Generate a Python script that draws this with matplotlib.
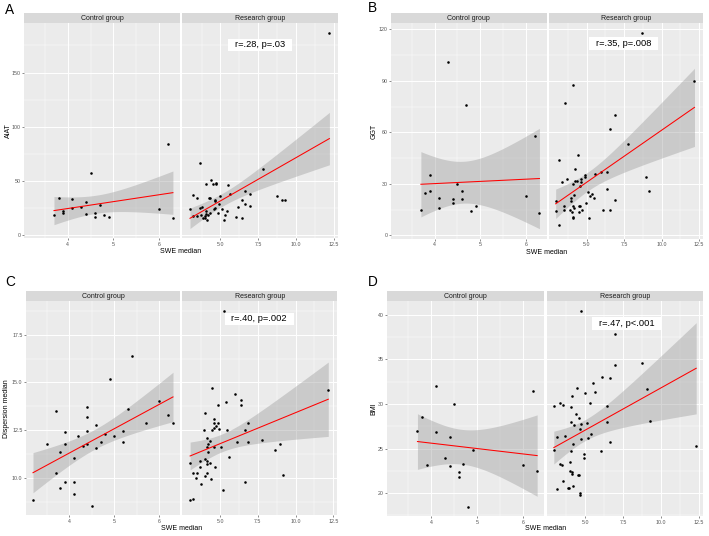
import numpy as np
import matplotlib
matplotlib.use("Agg")
import matplotlib.pyplot as plt
from matplotlib.patches import Rectangle

plt.rcParams['font.family'] = ['Liberation Sans', 'DejaVu Sans']

# ---------------- data ----------------
groups = ["Control group", "Research group"]

ctrl_swe = [3.7, 3.8, 3.9, 3.9, 4.1, 4.1, 4.3, 4.4, 4.4, 4.5, 4.6, 4.6, 4.7, 4.8, 4.9, 6.0, 6.2, 6.3]

a_ctrl_x = ctrl_swe
a_ctrl_y = [19.1, 34.8, 22.1, 20.6, 33.6, 25.2, 26.1, 30.9, 20.0, 57.3, 20.9, 17.0, 28.2, 19.1, 17.0, 23.9, 84.2, 16.1]
a_res_x = [2.99, 3.21, 3.42, 3.21, 3.47, 3.62, 3.62, 3.95, 3.95, 4.08, 4.08, 4.12, 4.23, 4.30, 4.34, 4.41, 4.52,
           4.56, 4.61, 4.67, 4.74, 4.74, 4.67, 4.93, 5.0, 5.11, 5.22, 5.33, 5.44, 5.53, 5.61, 6.05, 6.14, 6.42,
           6.42, 6.64, 6.64, 6.93, 6.93, 7.84, 8.72, 9.05, 9.27, 12.2, 3.69, 3.86, 4.02, 4.17, 4.82, 3.80]
a_res_y = [24.2, 37.3, 34.2, 18.2, 17.6, 66.4, 25.2, 17.6, 16.1, 22.1, 47.0, 14.5, 34.8, 34.2, 20.6, 50.9, 47.3,
           24.5, 32.7, 25.2, 47.9, 47.0, 32.1, 28.8, 36.1, 24.2, 13.9, 19.1, 22.1, 46.1, 37.9, 17.0, 26.1, 33.0,
           16.1, 40.9, 28.8, 37.9, 27.0, 61.2, 36.1, 33.0, 32.4, 186.4, 19.1, 16.1, 19.7, 19.1, 20.6, 25.8]

b_ctrl_x = ctrl_swe
b_ctrl_y = [15, 25, 35, 26, 22, 16, 101, 21, 19, 30, 26, 21, 76, 14, 17, 23, 58, 13]
b_res_x = [2.94, 2.96, 3.18, 3.18, 3.37, 3.48, 3.52, 3.57, 3.68, 3.87, 3.96, 3.96, 4.02, 4.07, 4.07, 4.07, 4.07,
           4.07, 4.13, 4.13, 4.26, 4.26, 4.35, 4.46, 4.48, 4.52, 4.54, 4.57, 4.61, 4.63, 4.70, 4.87, 4.87, 4.98,
           5.09, 5.17, 5.26, 5.35, 5.48, 5.56, 5.95, 6.08, 6.39, 6.39, 6.56, 6.56, 6.89, 6.89, 7.75, 8.69, 8.95,
           9.19, 12.2]
b_res_y = [20.1, 14.1, 44.1, 6.0, 31.0, 17.0, 15.1, 77.0, 33.1, 14.7, 22.1, 19.9, 13.7, 87.9, 30.2, 17.0, 10.8,
           9.9, 23.8, 16.1, 38.9, 31.9, 31.9, 47.0, 17.0, 13.5, 28.6, 17.0, 33.1, 31.0, 15.1, 35.0, 34.1, 19.0,
           25.2, 9.9, 23.2, 24.2, 22.1, 36.0, 37.0, 14.9, 37.2, 27.1, 61.9, 14.9, 70.1, 20.9, 53.0, 117.9, 34.1,
           25.9, 90.0]

c_ctrl_x = [3.2, 3.5, 3.7, 3.7, 3.8, 3.8, 3.9, 3.9, 3.9, 4.1, 4.1, 4.1, 4.2, 4.3, 4.4, 4.4, 4.4, 4.4, 4.5, 4.6,
            4.6, 4.7, 4.8, 4.9, 5.0, 5.2, 5.2, 5.3, 5.4, 5.7, 6.0, 6.2, 6.3]
c_ctrl_y = [8.88, 11.80, 13.51, 10.28, 11.38, 9.50, 12.40, 11.80, 9.79, 11.07, 9.79, 9.19, 12.18, 11.68, 13.70,
            13.20, 12.47, 11.80, 8.57, 12.80, 11.57, 11.88, 12.30, 15.20, 12.19, 12.49, 11.90, 13.59, 16.39,
            12.90, 14.01, 13.30, 12.90]
c_res_x = [3.0, 3.22, 3.0, 3.22, 3.41, 3.48, 3.63, 3.63, 3.70, 3.91, 4.0, 4.02, 4.02, 4.09, 4.09, 4.13, 4.13,
           4.13, 4.22, 4.22, 4.30, 4.30, 4.39, 4.48, 4.48, 4.57, 4.57, 4.61, 4.61, 4.67, 4.70, 4.87, 4.87, 4.93,
           5.07, 5.17, 5.28, 5.39, 5.48, 5.57, 6.0, 6.09, 6.39, 6.39, 6.61, 6.61, 6.87, 6.87, 7.78, 8.65, 8.98,
           9.15, 12.17]
c_res_y = [8.84, 8.89, 10.78, 10.28, 10.0, 10.28, 10.92, 10.57, 9.71, 12.51, 13.40, 11.0, 10.09, 12.09, 11.61,
           10.88, 10.74, 10.28, 11.35, 11.81, 11.92, 10.79, 9.98, 14.72, 12.51, 12.61, 13.11, 12.90, 11.61,
           10.57, 12.70, 12.90, 13.82, 12.59, 11.61, 9.40, 18.73, 13.99, 12.51, 11.09, 14.41, 11.88, 14.10,
           13.80, 12.51, 9.79, 12.90, 11.88, 11.99, 11.49, 11.80, 10.19, 14.60]

d_ctrl_x = [3.7, 3.8, 3.9, 4.1, 4.1, 4.3, 4.4, 4.4, 4.5, 4.6, 4.6, 4.7, 4.8, 4.9, 6.0, 6.2, 6.3]
d_ctrl_y = [27.0, 28.5, 23.1, 26.8, 32.0, 23.9, 26.3, 23.0, 30.0, 22.4, 21.8, 23.3, 18.5, 24.8, 23.1, 31.4, 22.5]
d_res_x = [2.93, 2.97, 3.14, 3.14, 3.36, 3.36, 3.45, 3.56, 3.56, 3.67, 3.84, 3.93, 3.97, 4.02, 4.06, 4.06, 4.06,
           4.10, 4.10, 4.15, 4.17, 4.21, 4.28, 4.37, 4.45, 4.50, 4.59, 4.59, 4.63, 4.63, 4.63, 4.69, 4.72, 4.72,
           4.89, 4.89, 4.98, 5.11, 5.20, 5.31, 5.41, 5.50, 5.61, 6.03, 6.11, 6.42, 6.42, 6.62, 6.62, 6.94, 6.94,
           8.76, 9.08, 9.26, 12.3]
d_res_y = [29.81, 24.81, 26.27, 20.52, 30.11, 23.28, 23.17, 29.89, 21.38, 26.38, 20.63, 20.63, 23.54, 22.5,
           27.99, 29.70, 24.74, 22.35, 22.16, 30.86, 20.75, 25.49, 27.65, 28.88, 31.75, 22.05, 22.05, 28.40,
           27.16, 20.07, 19.74, 40.41, 27.76, 26.08, 24.37, 23.92, 31.19, 27.84, 26.19, 30.11, 26.60, 32.39,
           31.34, 24.70, 32.99, 29.81, 27.99, 32.87, 25.71, 37.80, 34.33, 34.63, 31.72, 28.13, 25.30]

y_titles = ["AIAT", "GGT", "Dispersion median", "BMI"]
panel_letters = ["A", "B", "C", "D"]
stat_labels = ["r=.28, p=.03", "r=.35, p=.008", "r=.40, p=.002", "r=.47, p<.001"]
stat_pos = [(7.63, 175.5), (7.48, 111.8), (7.58, 18.32), (7.72, 39.03)]
y_breaks = [[0, 50, 100, 150], [0, 30, 60, 90, 120], [10.0, 12.5, 15.0, 17.5], [20, 25, 30, 35, 40]]
y_break_labels = [["0", "50", "100", "150"], ["0", "30", "60", "90", "120"],
                  ["10.0", "12.5", "15.0", "17.5"], ["20", "25", "30", "35", "40"]]
ctrl_x_breaks = [4, 5, 6]
ctrl_x_labels = ["4", "5", "6"]
res_x_breaks = [5.0, 7.5, 10.0, 12.5]
res_x_labels = ["5.0", "7.5", "10.0", "12.5"]

panels = [
    (a_ctrl_x, a_ctrl_y, a_res_x, a_res_y),
    (b_ctrl_x, b_ctrl_y, b_res_x, b_res_y),
    (c_ctrl_x, c_ctrl_y, c_res_x, c_res_y),
    (d_ctrl_x, d_ctrl_y, d_res_x, d_res_y),
]

# ---------------- layout (pixels) ----------------
W, H = 709, 536
layout = [
    dict(ctrl=(24, 23.3, 180, 238.3), res=(182, 23.3, 338, 238.3), strip=13.0, ylab_x=8.0, xlab_y=251.5, let=(10, 10)),
    dict(ctrl=(391, 23.3, 546.5, 238.5), res=(548.5, 23.3, 703, 238.5), strip=13.0, ylab_x=374.5, xlab_y=252, let=(372.7, 8.5)),
    dict(ctrl=(26, 301.3, 180, 515.3), res=(182, 301.3, 337.3, 515.3), strip=290.7, ylab_x=6.5, xlab_y=528, let=(10, 282.5)),
    dict(ctrl=(387.3, 301.3, 544.3, 516.3), res=(546.7, 301.3, 703.3, 516.3), strip=291.3, ylab_x=373.5, xlab_y=529, let=(372.5, 282)),
]

PANEL_BG = "#EBEBEB"
STRIP_BG = "#D9D9D9"
TICK_COL = "#555555"


def t975(df):
    z = 1.959964
    g1 = (z**3 + z) / 4
    g2 = (5 * z**5 + 16 * z**3 + 3 * z) / 96
    g3 = (3 * z**7 + 19 * z**5 + 17 * z**3 - 15 * z) / 384
    return z + g1 / df + g2 / df**2 + g3 / df**3


def lm_band(x, y):
    x = np.asarray(x, float)
    y = np.asarray(y, float)
    n = len(x)
    xb, yb = x.mean(), y.mean()
    sxx = ((x - xb) ** 2).sum()
    b = ((x - xb) * (y - yb)).sum() / sxx
    a = yb - b * xb
    s = np.sqrt(((y - a - b * x) ** 2).sum() / (n - 2))
    xs = np.linspace(x.min(), x.max(), 80)
    fit = a + b * xs
    half = t975(n - 2) * s * np.sqrt(1 / n + (xs - xb) ** 2 / sxx)
    return xs, fit, half


def expand(lo, hi, m=0.05):
    d = hi - lo
    return lo - m * d, hi + m * d


def minor_breaks(major, lim):
    step = major[1] - major[0]
    cand = np.arange(major[0] - step * 3, major[-1] + step * 3, step) + step / 2
    return [c for c in cand if lim[0] <= c <= lim[1]]


def add_axes_px(box):
    x0, y0, x1, y1 = box
    return fig.add_axes([x0 / W, 1 - y1 / H, (x1 - x0) / W, (y1 - y0) / H])


fig = plt.figure(figsize=(W / 100, H / 100), dpi=100)
fig.patch.set_facecolor("white")

all_ctrl_x = np.concatenate([np.asarray(p[0], float) for p in panels])
all_res_x = np.concatenate([np.asarray(p[2], float) for p in panels])
ctrl_xlim = expand(all_ctrl_x.min(), all_ctrl_x.max())
res_xlim = expand(all_res_x.min(), all_res_x.max())

renderer = fig.canvas.get_renderer()

for i, (cx, cy, rx, ry) in enumerate(panels):
    L = layout[i]
    bands = [lm_band(cx, cy), lm_band(rx, ry)]
    ys = [np.asarray(cy, float), np.asarray(ry, float)]
    lo = min(min(v.min() for v in ys), min((f - h).min() for _, f, h in bands))
    hi = max(max(v.max() for v in ys), max((f + h).max() for _, f, h in bands))
    ylim = expand(lo, hi)

    for j, (box, xs_, ys_, xlim, xb, xl) in enumerate([
            (L["ctrl"], cx, cy, ctrl_xlim, ctrl_x_breaks, ctrl_x_labels),
            (L["res"], rx, ry, res_xlim, res_x_breaks, res_x_labels)]):
        ax = add_axes_px(box)
        ax.set_facecolor(PANEL_BG)
        for sp in ax.spines.values():
            sp.set_visible(False)
        ax.set_xlim(*xlim)
        ax.set_ylim(*ylim)
        # grid
        for v in minor_breaks(xb, xlim):
            ax.axvline(v, color="white", lw=0.35, zorder=0.5)
        for v in minor_breaks(y_breaks[i], ylim):
            ax.axhline(v, color="white", lw=0.35, zorder=0.5)
        for v in xb:
            ax.axvline(v, color="white", lw=0.7, zorder=0.6)
        for v in y_breaks[i]:
            ax.axhline(v, color="white", lw=0.7, zorder=0.6)
        # smooth
        gx, gfit, ghalf = bands[j]
        ax.fill_between(gx, gfit - ghalf, gfit + ghalf, color="#999999", alpha=0.4, lw=0, zorder=1)
        ax.plot(gx, gfit, color="#FF0000", lw=0.75, zorder=3)
        ax.scatter(xs_, ys_, s=3.4, color="black", lw=0, zorder=2)
        # ticks
        ax.set_xticks(xb)
        ax.set_xticklabels(xl)
        ax.set_yticks(y_breaks[i])
        if j == 0:
            ax.set_yticklabels(y_break_labels[i])
        else:
            ax.set_yticklabels([])
        ax.tick_params(axis="both", labelsize=3.8, labelcolor=TICK_COL, color="#333333",
                       width=0.4, length=1.5, pad=1.0)
        if j == 1:
            ax.tick_params(axis="y", length=0)
        # strip
        sx0, sy0, sx1, sy1 = box
        sax = add_axes_px((sx0, L["strip"], sx1, sy0))
        sax.set_facecolor(STRIP_BG)
        sax.set_xticks([])
        sax.set_yticks([])
        for sp in sax.spines.values():
            sp.set_visible(False)
        sax.text(0.5, 0.48, groups[j], ha="center", va="center", fontsize=5.0, color="#1A1A1A",
                 transform=sax.transAxes)
        if j == 1:
            px, py = stat_pos[i]
            t = ax.text(px, py, stat_labels[i], ha="center", va="center", fontsize=6.7,
                        color="black", zorder=6)
            bb = t.get_window_extent(renderer=renderer)
            cxp, cyp = ax.transData.transform((px, py))
            bw = bb.width + 13.5
            bh = 12.7
            inv = ax.transAxes.inverted()
            (ax0, ay0) = inv.transform((cxp - bw / 2, cyp - bh / 2))
            (ax1, ay1) = inv.transform((cxp + bw / 2, cyp + bh / 2))
            ax.add_patch(Rectangle((ax0, ay0), ax1 - ax0, ay1 - ay0, transform=ax.transAxes,
                                   facecolor="white", edgecolor="none", zorder=5, clip_on=False))

    # titles
    yc = (L["ctrl"][1] + L["ctrl"][3]) / 2
    fig.text(L["ylab_x"] / W, 1 - yc / H, y_titles[i], rotation=90, ha="center", va="center",
             fontsize=5.0, color="black")
    xc = (L["ctrl"][0] + L["res"][2]) / 2
    fig.text(xc / W, 1 - L["xlab_y"] / H, "SWE median", ha="center", va="center", fontsize=5.0,
             color="black")
    lx, ly = L["let"]
    fig.text(lx / W, 1 - ly / H, panel_letters[i], ha="center", va="center", fontsize=9.8,
             color="black")

fig.savefig("out.png", dpi=100)
